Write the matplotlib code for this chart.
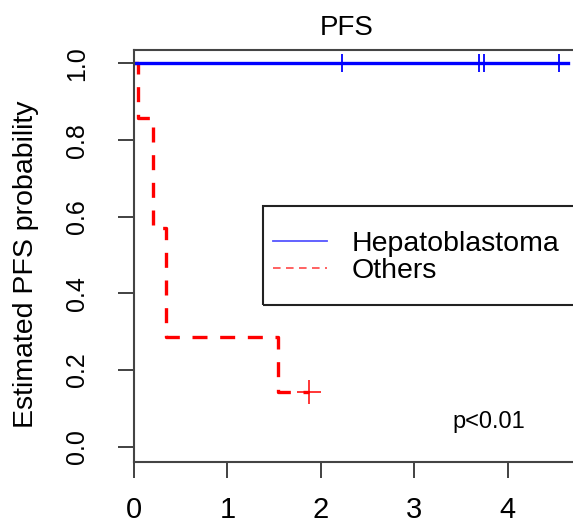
import matplotlib
matplotlib.use('Agg')
import matplotlib.pyplot as plt
from matplotlib.patches import Rectangle
from matplotlib.lines import Line2D

plt.rcParams['font.family'] = ['Liberation Sans', 'DejaVu Sans']

# Kaplan-Meier data
hb_times = [0, 4.65]
hb_surv = [1.0, 1.0]
hb_cens_times = [2.23, 3.69, 3.75, 4.55]
hb_cens_surv = [1.0, 1.0, 1.0, 1.0]

oth_times = [0, 0.045, 0.2, 0.34, 1.54, 1.87]
oth_surv = [1.0, 0.857, 0.571, 0.286, 0.143, 0.143]
oth_cens_times = [1.87]
oth_cens_surv = [0.143]

x_ticks = [0, 1, 2, 3, 4]
y_ticks = [0.0, 0.2, 0.4, 0.6, 0.8, 1.0]
y_ticklabels = ['0.0', '0.2', '0.4', '0.6', '0.8', '1.0']
group_names = ['Hepatoblastoma', 'Others']

fig = plt.figure(figsize=(5.73, 5.25), dpi=100)
# axes box runs past the right edge like in the original crop
ax = fig.add_axes([133.5 / 573, 63 / 525, (590 - 133.5) / 573, 412 / 525])

ax.plot(oth_times, oth_surv, drawstyle='steps-post', color='red', lw=2.4,
        linestyle=(0, (4.5, 3.8)))
ax.plot(oth_cens_times, oth_cens_surv, '+', color='red', ms=17, mew=1.1)
ax.plot(hb_times, hb_surv, drawstyle='steps-post', color='blue', lw=2.4)
ax.plot(hb_cens_times, hb_cens_surv, '+', color='blue', ms=13, mew=1.3)

ax.set_xlim(-0.005, (590 - 134) / 93.4)
ax.set_ylim(-0.04, 1.035)

ax.set_xticks(x_ticks)
ax.set_xticklabels([str(t) for t in x_ticks], fontsize=21)
ax.set_yticks(y_ticks)
ax.set_yticklabels(y_ticklabels, fontsize=18, rotation=90, va='center')
ax.tick_params(axis='x', length=11.5, width=1.3, pad=13, color='#333333')
ax.tick_params(axis='y', length=11.5, width=1.3, pad=20.5, color='#333333')

for s in ax.spines.values():
    s.set_linewidth(1.5)
    s.set_color('#444444')

ax.set_title('PFS', fontsize=20, x=0.468, pad=11)
ax.set_ylabel('Estimated PFS probability', fontsize=20.5, va='center')
ax.yaxis.set_label_coords(-0.235, 0.48)

ax.text(3.8, 0.064, 'p<0.01', fontsize=17, ha='center', va='center')

# legend: thin sample lines, frameless legend plus a box running off the right
handles = [Line2D([], [], color='#5555ff', lw=1.3),
           Line2D([], [], color='#ff5555', lw=1.3, linestyle=(0, (4.2, 3)))]
ax.legend(handles, group_names, loc='upper left',
          bbox_to_anchor=(272.7 / 573, (525 - 231) / 525),
          bbox_transform=fig.transFigure, frameon=False,
          fontsize=20.5, handlelength=1.9, handletextpad=0.88,
          labelspacing=0.05, borderpad=0, borderaxespad=0)
fig.add_artist(Rectangle((263 / 573, (525 - 305) / 525), (620 - 263) / 573, 99 / 525,
                         transform=fig.transFigure, fill=False, lw=1.5,
                         edgecolor='#222222'))

fig.savefig('out.png', dpi=100)
